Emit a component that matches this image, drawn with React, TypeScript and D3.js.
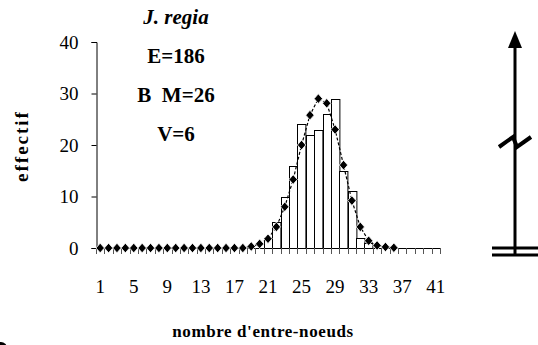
import { useEffect, useRef } from 'react'
import * as d3 from 'd3'

// categories 1..41 (nombre d'entre-noeuds)
const categories = [
  1, 2, 3, 4, 5, 6, 7, 8, 9, 10, 11, 12, 13, 14, 15, 16, 17, 18, 19, 20,
  21, 22, 23, 24, 25, 26, 27, 28, 29, 30, 31, 32, 33, 34, 35, 36, 37, 38, 39, 40, 41,
]
// observed counts (bars)
const observed = [
  0, 0, 0, 0, 0, 0, 0, 0, 0, 0, 0, 0, 0, 0, 0, 0, 0, 0, 0, 0,
  2, 5, 10, 16, 24, 22, 23, 26, 29, 15, 11, 2, 1, 0, 0, 0, 0, 0, 0, 0, 0,
]
// fitted normal (diamonds), none drawn past 36
const fitted: (number | null)[] = [
  0, 0, 0, 0, 0, 0, 0, 0, 0, 0, 0, 0, 0, 0, 0, 0, 0, 0, 0.3, 0.8,
  1.8, 4.1, 8.0, 13.3, 20.0, 25.8, 29.0, 28.1, 23.0, 16.1, 9.2, 4.1, 1.4, 0.5, 0.2, 0.05,
  null, null, null, null, null,
]
const xTickLabels = [1, 5, 9, 13, 17, 21, 25, 29, 33, 37, 41]
const yTicks = [0, 10, 20, 30, 40]
const annotations = ['E=186', 'B\u00A0\u00A0M=26', 'V=6']

const W = 538
const H = 345
const FONT = '"Liberation Serif", "Times New Roman", serif'

export default function App() {
  const svgRef = useRef<SVGSVGElement>(null)

  useEffect(() => {
    if (!svgRef.current) return
    const svg = d3.select(svgRef.current)
    svg.selectAll('*').remove()

    const x = d3.scaleBand<number>()
      .domain(categories)
      .range([96, 440])
      .padding(0)

    const y = d3.scaleLinear()
      .domain([0, 40])
      .range([248, 42])

    const cx = (c: number) => x(c)! + x.bandwidth() / 2
    const g = svg.append('g')

    // bars
    g.selectAll('rect.bar')
      .data(categories.map((c, i) => ({ c, v: observed[i] })).filter(d => d.v > 0))
      .join('rect')
      .attr('class', 'bar')
      .attr('x', d => Math.round(x(d.c)!) + 0.5)
      .attr('y', d => Math.round(y(d.v)) + 0.5)
      .attr('width', x.bandwidth())
      .attr('height', d => Math.round(y(0)) - Math.round(y(d.v)))
      .attr('fill', '#fff')
      .attr('stroke', '#000')
      .attr('stroke-width', 1)

    // y axis
    const yAxis = g.append('g')
      .attr('transform', `translate(${Math.round(x.range()[0]) + 0.5},0)`)
      .call(d3.axisLeft(y).tickValues(yTicks).tickSize(5).tickPadding(13))
    yAxis.select('.domain').attr('stroke', '#000')
    yAxis.selectAll('text')
      .attr('font-family', FONT)
      .attr('font-size', 19)
      .attr('fill', '#000')

    // x axis line + ticks between categories
    const boundaries = categories.map(c => x(c)!).concat([x.range()[1]])
    g.append('line')
      .attr('x1', x.range()[0]).attr('x2', x.range()[1])
      .attr('y1', Math.round(y(0)) + 0.5).attr('y2', Math.round(y(0)) + 0.5)
      .attr('stroke', '#000')
    g.selectAll('line.xtick')
      .data(boundaries)
      .join('line')
      .attr('class', 'xtick')
      .attr('x1', d => Math.round(d) + 0.5).attr('x2', d => Math.round(d) + 0.5)
      .attr('y1', y(0)).attr('y2', y(0) + 6)
      .attr('stroke', '#555')

    g.selectAll('text.xlab')
      .data(xTickLabels)
      .join('text')
      .attr('class', 'xlab')
      .attr('x', d => cx(d))
      .attr('y', 293)
      .attr('text-anchor', 'middle')
      .attr('font-family', FONT)
      .attr('font-size', 19)
      .text(d => d)

    // fitted curve, dashed
    const pts = fitted
      .map((v, i) => ({ c: categories[i], v }))
      .filter(d => d.v !== null) as { c: number; v: number }[]
    const line = d3.line<{ c: number; v: number }>()
      .x(d => cx(d.c))
      .y(d => y(d.v))
    g.append('path')
      .attr('d', line(pts))
      .attr('fill', 'none')
      .attr('stroke', '#000')
      .attr('stroke-width', 1.2)
      .attr('stroke-dasharray', '3,2')

    g.selectAll('path.dot')
      .data(pts)
      .join('path')
      .attr('class', 'dot')
      .attr('d', 'M0,-4.8L4.2,0L0,4.8L-4.2,0Z')
      .attr('transform', d => `translate(${cx(d.c)},${y(d.v)})`)
      .attr('fill', '#000')
      .attr('stroke', '#fff')
      .attr('stroke-width', 0.8)

    // titles
    g.append('text')
      .attr('transform', 'translate(28,146) rotate(-90)')
      .attr('text-anchor', 'middle')
      .attr('font-family', FONT)
      .attr('font-weight', 'bold')
      .attr('font-size', 19)
      .attr('letter-spacing', 2)
      .text('effectif')

    g.append('text')
      .attr('x', 263)
      .attr('y', 337)
      .attr('text-anchor', 'middle')
      .attr('font-family', FONT)
      .attr('font-weight', 'bold')
      .attr('font-size', 17)
      .attr('letter-spacing', 0.6)
      .text("nombre d'entre-noeuds")

    // annotation block
    g.append('text')
      .attr('x', 176).attr('y', 24)
      .attr('text-anchor', 'middle')
      .attr('font-family', FONT)
      .attr('font-weight', 'bold')
      .attr('font-style', 'italic')
      .attr('font-size', 21)
      .text('J. regia')
    g.selectAll('text.ann')
      .data(annotations)
      .join('text')
      .attr('class', 'ann')
      .attr('x', 176)
      .attr('y', (_, i) => 63 + i * 39)
      .attr('text-anchor', 'middle')
      .attr('font-family', FONT)
      .attr('font-weight', 'bold')
      .attr('font-size', 21)
      .text(d => d)

    // right-side axis-break symbol
    const s = svg.append('g').attr('stroke', '#000').attr('fill', 'none')
    s.append('line').attr('x1', 515).attr('x2', 515).attr('y1', 44).attr('y2', 254).attr('stroke-width', 3)
    s.append('path').attr('d', 'M515,31L508,48L522,48Z').attr('fill', '#000').attr('stroke', 'none')
    s.append('path').attr('d', 'M499,147L513,137L517,147L531,137').attr('stroke-width', 4)
    s.append('line').attr('x1', 492).attr('x2', 538).attr('y1', 248).attr('y2', 248).attr('stroke-width', 3)
    s.append('line').attr('x1', 492).attr('x2', 538).attr('y1', 255).attr('y2', 255).attr('stroke-width', 3)

    // partial dot at bottom-left corner
    svg.append('circle').attr('cx', 1).attr('cy', 348).attr('r', 6).attr('fill', '#000')
  }, [])

  return (
    <svg
      ref={svgRef}
      width={W}
      height={H}
      style={{ position: 'absolute', left: 0, top: 0, background: '#fff' }}
    />
  )
}
